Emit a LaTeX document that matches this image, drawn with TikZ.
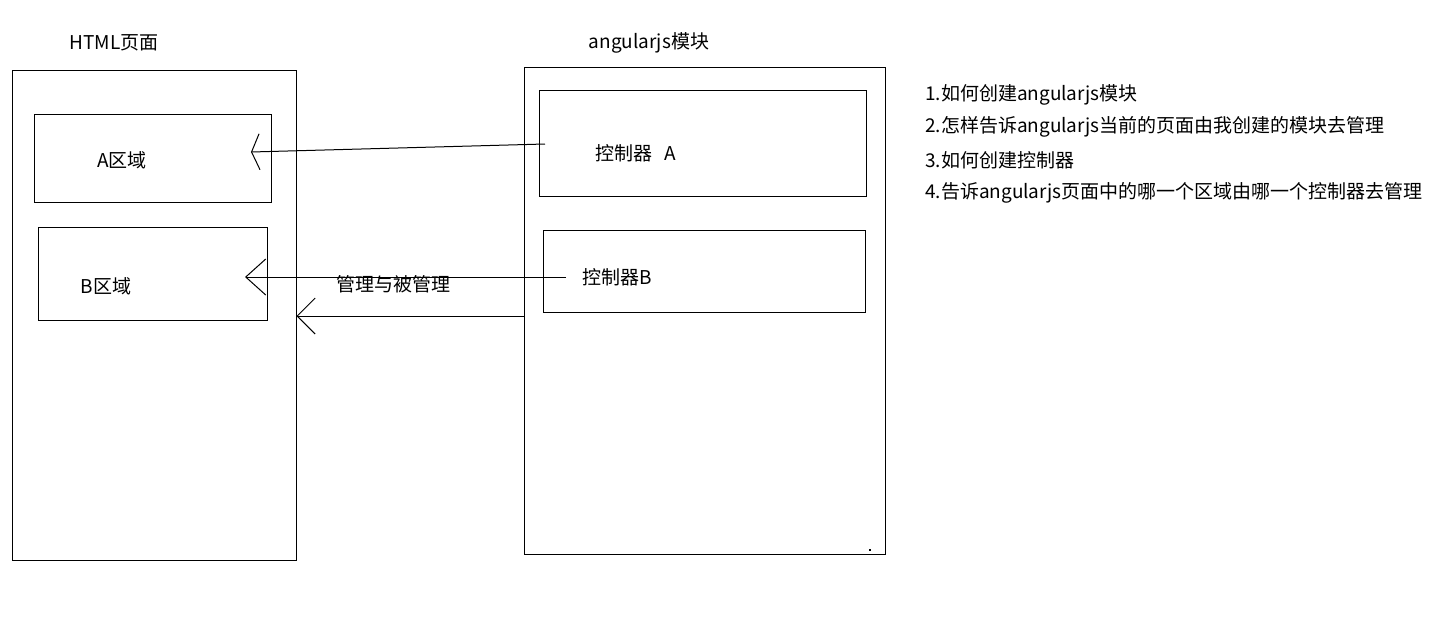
\documentclass[tikz,border=0pt]{standalone}
\usepackage{fontspec}
\setmainfont{Noto Sans CJK SC}
\usetikzlibrary{arrows.meta}
\tikzset{
  box/.style={draw,line width=1pt,inner sep=0pt},
  lab/.style={font=\fontsize{19}{23}\selectfont,inner sep=0pt},
  ptr/.style={line width=1pt,-{Straight Barb[length=#1,width=36pt,line width=1pt]}},
  ptr/.default=18pt
}
\begin{document}
\begin{tikzpicture}[x=1pt,y=-1pt]
  \useasboundingbox[fill=white] (0,0) rectangle (1433,635);
  % html page side
  \node[box,minimum width=284pt,minimum height=490pt] (html) at (154,315) {};
  \node[lab] (htmltitle) at (114,43) {HTML页面};
  \node[box,minimum width=237pt,minimum height=88pt] (areaA) at (152.5,158) {};
  \node[lab] (areaAtxt) at (122,160) {A区域};
  \node[box,minimum width=229pt,minimum height=93pt] (areaB) at (152.5,273.5) {};
  \node[lab] (areaBtxt) at (106,286) {B区域};
  % angularjs module side
  \node[box,minimum width=361pt,minimum height=487pt] (module) at (704.5,310.5) {};
  \node[lab] (moduletitle) at (649,43) {angularjs模块};
  \node[box,minimum width=327pt,minimum height=106pt] (ctrlA) at (702.5,143) {};
  \node[lab] (ctrlAtxt) at (636,153) {控制器\hspace{12pt}A};
  \node[box,minimum width=322pt,minimum height=82pt] (ctrlB) at (704,271) {};
  \node[lab] (ctrlBtxt) at (617,277) {控制器B};
  \fill (869,549) rectangle (871,551);
  % arrow ends
  \coordinate (a1s) at (545,144);
  \coordinate (a1e) at (251,152);
  \coordinate (a2s) at (566,277);
  \coordinate (a2e) at (245,277);
  \coordinate (a3s) at (module.west |- 0,316);
  \coordinate (a3e) at (html.east |- 0,316);
  \draw[ptr=8pt] (a1s) -- (a1e);
  \draw[ptr=20pt] (a2s) -- (a2e);
  \draw[ptr] (a3s) -- (a3e);
  \node[lab] (relation) at (393,284) {管理与被管理};
  % questions
  \node[lab,anchor=west] (q1) at (925,95) {1.如何创建angularjs模块};
  \node[lab,anchor=west] (q2) at (925,127) {2.怎样告诉angularjs当前的页面由我创建的模块去管理};
  \node[lab,anchor=west] (q3) at (925,160) {3.如何创建控制器};
  \node[lab,anchor=west] (q4) at (925,193) {4.告诉angularjs页面中的哪一个区域由哪一个控制器去管理};
\end{tikzpicture}
\end{document}
